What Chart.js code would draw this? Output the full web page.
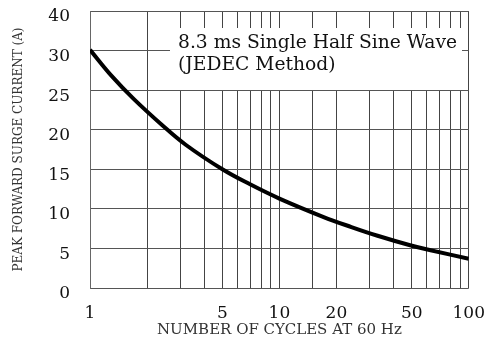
<!DOCTYPE html>
<html>
<head>
<meta charset="utf-8">
<script src="https://cdn.jsdelivr.net/npm/chart.js@4/dist/chart.umd.min.js"></script>
<style>
  html, body { margin: 0; padding: 0; background: #fff; }
  #wrap { width: 500px; height: 341px; }
</style>
</head>
<body>
<div id="wrap"><canvas id="surgeChart"></canvas></div>
<script>
// values
const cycles = [1, 1.3, 1.7, 2.4, 3.2, 5, 7, 10, 17, 24, 33, 49, 62, 100];
const current = [30.2, 26.8, 23.9, 20.6, 18.1, 15, 13.1, 11.3, 9.0, 7.7, 6.6, 5.4, 4.8, 3.7];

// the y axis is drawn with evenly spaced rows, labelled unevenly
const yLabels = [0, 5, 10, 15, 20, 25, 30, 40];
const xLabels = [1, 5, 10, 20, 50, 100];
const noteLines = ["8.3 ms Single Half Sine Wave", "(JEDEC Method)"];

const SERIF = "'DejaVu Serif', 'Liberation Serif', serif";

// amps -> row position on the uneven y axis
function toRow(a) {
  for (let i = 0; i < yLabels.length - 1; i++) {
    if (a <= yLabels[i + 1]) {
      return i + (a - yLabels[i]) / (yLabels[i + 1] - yLabels[i]);
    }
  }
  return yLabels.length - 1;
}

const notePlugin = {
  id: "note",
  beforeDatasetsDraw(chart) {
    const { ctx, chartArea } = chart;
    const x = chartArea.left + 80;
    const y = chartArea.top + 17;
    ctx.save();
    ctx.fillStyle = "#fff";
    ctx.fillRect(x, y, 292, 62);
    // size the note so the first line is as wide as in the original
    ctx.font = "18px " + SERIF;
    const size = 18 * 280 / ctx.measureText(noteLines[0]).width;
    ctx.font = size.toFixed(1) + "px " + SERIF;
    ctx.fillStyle = "#111";
    ctx.textBaseline = "alphabetic";
    ctx.fillText(noteLines[0], x + 8, y + 20);
    ctx.fillText(noteLines[1], x + 8, y + 42);
    ctx.restore();
  }
};

new Chart(document.getElementById("surgeChart"), {
  type: "line",
  data: {
    datasets: [{
      data: cycles.map((c, i) => ({ x: c, y: toRow(current[i]) })),
      borderColor: "#000",
      borderWidth: 4,
      pointRadius: 0,
      tension: 0.4,
      fill: false
    }]
  },
  options: {
    responsive: true,
    maintainAspectRatio: false,
    animation: false,
    layout: { padding: { top: 11, right: 28, left: 0, bottom: 0 } },
    plugins: { legend: { display: false }, tooltip: { enabled: false } },
    scales: {
      x: {
        type: "logarithmic",
        min: 1,
        max: 100,
        afterFit(scale) { scale.height = 53; },
        grid: { color: "#444", lineWidth: 1, drawTicks: false },
        border: { display: false },
        ticks: {
          autoSkip: false,
          maxRotation: 0,
          padding: 15,
          color: "#111",
          font: { family: SERIF, size: 17 },
          callback: (v) => xLabels.includes(v) ? String(v) : ""
        },
        title: {
          display: true,
          text: "NUMBER OF CYCLES AT 60 Hz",
          color: "#333",
          font: { family: SERIF, size: 15 },
          padding: { top: 0, bottom: 2 }
        }
      },
      y: {
        type: "linear",
        min: 0,
        max: yLabels.length - 1,
        afterFit(scale) {
          scale.width = 90;
          scale.paddingTop = 0;
          scale.paddingBottom = 0;
        },
        grid: { color: "#555", lineWidth: 1, drawTicks: false },
        border: { display: true, color: "#666" },
        ticks: {
          stepSize: 1,
          padding: 20,
          labelOffset: 6,
          color: "#111",
          font: { family: SERIF, size: 17 },
          callback: (v) => yLabels[v] !== undefined ? String(yLabels[v]) : ""
        },
        title: {
          display: true,
          text: "PEAK FORWARD SURGE CURRENT (A)",
          color: "#333",
          font: { family: SERIF, size: 12 },
          padding: { top: 12, bottom: 0 }
        }
      }
    }
  },
  plugins: [notePlugin]
});
</script>
</body>
</html>
